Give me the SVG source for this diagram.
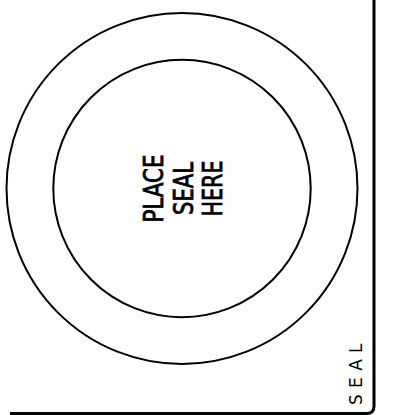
<svg xmlns="http://www.w3.org/2000/svg" width="415" height="415" viewBox="0 0 415 415">
<style>
.ring{fill:none;stroke:#000;stroke-width:2}
.main{font-family:"DejaVu Sans","Liberation Sans",sans-serif;font-size:26px;fill:#000;stroke:#000;stroke-width:0.8px}
.lab{font-family:"DejaVu Sans","Liberation Sans",sans-serif;font-size:17px;fill:#000;letter-spacing:6.3px}
</style>
<rect width="415" height="415" fill="#fff"/>
<g id="frame">
<path d="M374 0 V406 Q374 413.5 366.5 413.5 H10" fill="none" stroke="#000" stroke-width="3"/>
</g>
<g id="seal">
<circle class="ring" cx="182" cy="188.5" r="175.5"/>
<circle class="ring" cx="182" cy="188.5" r="128.7"/>
<text class="main" text-anchor="middle" transform="translate(0 188.5) rotate(-90)"><tspan x="0" y="163" textLength="68" lengthAdjust="spacingAndGlyphs">PLACE</tspan></text>
<text class="main" text-anchor="middle" transform="translate(0 188.5) rotate(-90)"><tspan x="0" y="192.5" textLength="53" lengthAdjust="spacingAndGlyphs">SEAL</tspan></text>
<text class="main" text-anchor="middle" transform="translate(0 188.5) rotate(-90)"><tspan x="0" y="222" textLength="56" lengthAdjust="spacingAndGlyphs">HERE</tspan></text>
</g>
<g id="label">
<text class="lab" transform="translate(361.5 405) rotate(-90)">SEAL</text>
</g>
</svg>
